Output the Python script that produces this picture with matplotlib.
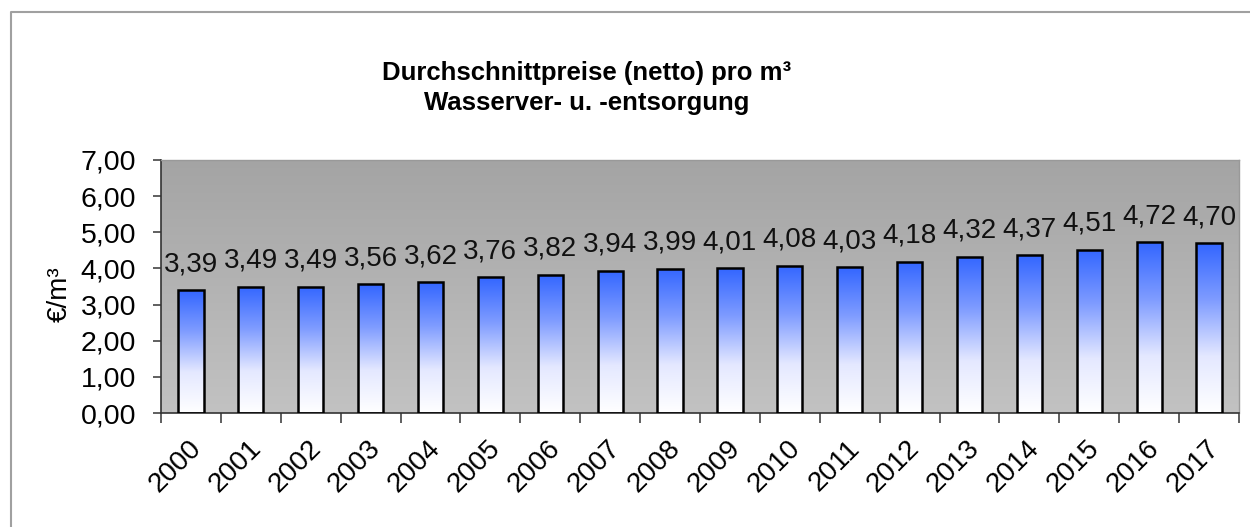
import numpy as np
import matplotlib.pyplot as plt
from matplotlib.lines import Line2D
from matplotlib.colors import LinearSegmentedColormap

plt.rcParams['font.family'] = ['Liberation Sans', 'DejaVu Sans']

years = [str(y) for y in range(2000, 2018)]
prices = [3.39, 3.49, 3.49, 3.56, 3.62, 3.76, 3.82, 3.94, 3.99, 4.01,
          4.08, 4.03, 4.18, 4.32, 4.37, 4.51, 4.72, 4.70]
yticks = [0, 1, 2, 3, 4, 5, 6, 7]

fig = plt.figure(figsize=(12.5, 5.27), dpi=100)
ax = fig.add_axes([0.1288, 0.2163, 0.8624, 0.4801])

x = np.arange(len(years))
ax.set_xlim(-0.5, len(years) - 0.5)
ax.set_ylim(0, 7)

# background gradient, darker at top
bg = LinearSegmentedColormap.from_list('bg', ['#c2c2c2', '#a4a4a4'])
ax.imshow(np.linspace(0, 1, 256).reshape(-1, 1), cmap=bg, aspect='auto',
          extent=[-0.5, len(years) - 0.5, 0, 7], origin='lower', zorder=0)

bars = ax.bar(x, prices, width=0.42, facecolor='none', edgecolor='black',
              linewidth=1.8, zorder=3)
grad = LinearSegmentedColormap.from_list('bl', ['#ffffff', '#e4e8ff', '#7f9cff', '#3366ff'])
for b in bars:
    im = ax.imshow(np.linspace(0, 1, 256).reshape(-1, 1), cmap=grad, aspect='auto',
                   extent=[b.get_x(), b.get_x() + b.get_width(), 0, b.get_height()],
                   origin='lower', zorder=2)
    im.set_clip_path(b)

for xi, v in zip(x, prices):
    ax.text(xi, v + 0.36, f'{v:.2f}'.replace('.', ','), ha='center', va='bottom',
            fontsize=20, color='#111111', zorder=4)

ax.set_yticks(yticks)
ax.set_yticklabels([f'{t:.2f}'.replace('.', ',') for t in yticks], fontsize=20.5)
ax.set_xticks(np.arange(len(years) + 1) - 0.5)
ax.set_xticklabels([])
ax.set_xticks(x - 0.05, minor=True)
ax.set_xticklabels(years, minor=True, rotation=45, ha='right', va='top',
                   rotation_mode='anchor', fontsize=20)
ax.tick_params(axis='x', which='minor', length=0, pad=16)
ax.tick_params(axis='x', which='major', length=7, width=1.2, color='#444444')
ax.tick_params(axis='y', length=6, width=1.2, color='#444444', pad=12)

for s in ['top', 'right']:
    ax.spines[s].set_color('#999999')
    ax.spines[s].set_linewidth(1)
for s in ['left', 'bottom']:
    ax.spines[s].set_color('#333333')
    ax.spines[s].set_linewidth(1.2)

ax.set_ylabel('€/m³', fontsize=20)
ax.yaxis.set_label_coords(-0.0817, 0.47)

fig.text(0.4696, 0.862, 'Durchschnittpreise (netto) pro m³', ha='center', va='center',
         fontsize=18.5, fontweight='bold')
fig.text(0.4696, 0.805, 'Wasserver- u. -entsorgung', ha='center', va='center',
         fontsize=18.5, fontweight='bold')

# outer chart frame
fig.add_artist(Line2D([0.0088, 0.0088, 1.0], [0.0, 0.977, 0.977], color='#a0a0a0',
                      linewidth=1.5, transform=fig.transFigure))

fig.savefig('out.png', dpi=100)
